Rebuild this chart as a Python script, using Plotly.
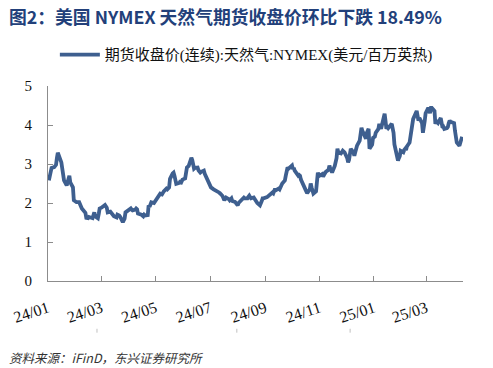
import plotly.graph_objects as go

dates = [
    "2024-01-02","2024-01-04","2024-01-05","2024-01-08","2024-01-10","2024-01-11","2024-01-12","2024-01-16","2024-01-18","2024-01-19",
    "2024-01-22","2024-01-24","2024-01-25","2024-01-26","2024-01-29","2024-01-30","2024-02-01","2024-02-02","2024-02-05","2024-02-07",
    "2024-02-08","2024-02-12","2024-02-13","2024-02-15","2024-02-16","2024-02-20","2024-02-22","2024-02-23","2024-02-26","2024-02-27",
    "2024-02-28","2024-03-01","2024-03-04","2024-03-05","2024-03-07","2024-03-08","2024-03-11","2024-03-13","2024-03-14","2024-03-15",
    "2024-03-18","2024-03-19","2024-03-21","2024-03-22","2024-03-25","2024-03-27","2024-03-28","2024-04-01","2024-04-03","2024-04-04",
    "2024-04-05","2024-04-08","2024-04-09","2024-04-10","2024-04-11","2024-04-15","2024-04-17","2024-04-18","2024-04-19","2024-04-22",
    "2024-04-23","2024-04-24","2024-04-26","2024-04-29","2024-05-01","2024-05-03","2024-05-06","2024-05-08","2024-05-10","2024-05-13",
    "2024-05-14","2024-05-16","2024-05-17","2024-05-20","2024-05-21","2024-05-22","2024-05-23","2024-05-24","2024-05-28","2024-05-29",
    "2024-05-30","2024-05-31","2024-06-03","2024-06-04","2024-06-05","2024-06-07","2024-06-10","2024-06-11","2024-06-12","2024-06-13",
    "2024-06-14","2024-06-17","2024-06-18","2024-06-20","2024-06-21","2024-06-24","2024-06-25","2024-06-26","2024-06-27","2024-06-28",
    "2024-07-01","2024-07-02","2024-07-05","2024-07-08","2024-07-10","2024-07-11","2024-07-12","2024-07-15","2024-07-17","2024-07-18",
    "2024-07-19","2024-07-22","2024-07-23","2024-07-25","2024-07-26","2024-07-29","2024-07-31","2024-08-01","2024-08-02","2024-08-05",
    "2024-08-07","2024-08-08","2024-08-09","2024-08-12","2024-08-13","2024-08-14","2024-08-15","2024-08-16","2024-08-19","2024-08-20",
    "2024-08-22","2024-08-23","2024-08-26","2024-08-27","2024-08-28","2024-08-29","2024-08-30","2024-09-03","2024-09-05","2024-09-06",
    "2024-09-09","2024-09-10","2024-09-11","2024-09-12","2024-09-13","2024-09-16","2024-09-17","2024-09-18","2024-09-19","2024-09-20",
    "2024-09-23","2024-09-24","2024-09-25","2024-09-26","2024-09-27","2024-09-30","2024-10-01","2024-10-02","2024-10-03","2024-10-04",
    "2024-10-07","2024-10-08","2024-10-09","2024-10-10","2024-10-11","2024-10-14","2024-10-15","2024-10-16","2024-10-17","2024-10-18",
    "2024-10-21","2024-10-22","2024-10-23","2024-10-24","2024-10-25","2024-10-28","2024-10-29","2024-10-30","2024-10-31","2024-11-01",
    "2024-11-04","2024-11-05","2024-11-06","2024-11-08","2024-11-11","2024-11-12","2024-11-13","2024-11-14","2024-11-15","2024-11-18",
    "2024-11-19","2024-11-20","2024-11-21","2024-11-22","2024-11-25","2024-11-26","2024-11-27","2024-11-29","2024-12-02","2024-12-03",
    "2024-12-04","2024-12-05","2024-12-06","2024-12-09","2024-12-10","2024-12-11","2024-12-12","2024-12-13","2024-12-16","2024-12-17",
    "2024-12-18","2024-12-19","2024-12-20","2024-12-23","2024-12-24","2024-12-26","2024-12-27","2024-12-30","2024-12-31","2025-01-02",
    "2025-01-03","2025-01-06","2025-01-07","2025-01-08","2025-01-09","2025-01-10","2025-01-13","2025-01-14","2025-01-15","2025-01-16",
    "2025-01-17","2025-01-21","2025-01-22","2025-01-23","2025-01-24","2025-01-27","2025-01-28","2025-01-29","2025-01-30","2025-01-31",
    "2025-02-03","2025-02-04","2025-02-05","2025-02-06","2025-02-07","2025-02-10","2025-02-11","2025-02-12","2025-02-13","2025-02-14",
    "2025-02-18","2025-02-19","2025-02-20","2025-02-21","2025-02-24","2025-02-25","2025-02-26","2025-02-27","2025-02-28","2025-03-03",
    "2025-03-04","2025-03-05","2025-03-06","2025-03-07","2025-03-10","2025-03-11","2025-03-12","2025-03-13","2025-03-14","2025-03-17",
    "2025-03-18","2025-03-19","2025-03-20","2025-03-21","2025-03-24","2025-03-25","2025-03-26","2025-03-27","2025-03-28","2025-03-31",
    "2025-04-01","2025-04-02","2025-04-03","2025-04-04","2025-04-07","2025-04-08","2025-04-09","2025-04-10",
]
prices = [
    2.58,2.85,2.90,2.92,2.98,3.15,3.29,3.04,2.75,2.58,
    2.45,2.66,2.70,2.53,2.40,2.07,2.05,2.02,2.02,1.90,
    1.86,1.75,1.62,1.61,1.64,1.61,1.76,1.66,1.61,1.72,
    1.86,1.88,1.94,1.95,1.88,1.76,1.78,1.73,1.70,1.66,
    1.63,1.70,1.68,1.65,1.51,1.60,1.76,1.81,1.86,1.83,
    1.81,1.83,1.86,1.84,1.73,1.70,1.66,1.70,1.68,1.69,
    1.94,1.90,2.02,2.00,2.07,2.10,2.24,2.22,2.30,2.37,
    2.35,2.40,2.62,2.76,2.78,2.70,2.53,2.49,2.52,2.58,
    2.55,2.60,2.63,2.75,2.91,2.95,3.16,3.10,3.00,2.88,
    2.90,2.91,2.84,2.78,2.80,2.83,2.75,2.70,2.65,2.58,
    2.48,2.40,2.35,2.32,2.30,2.27,2.25,2.18,2.07,2.10,
    2.14,2.10,2.07,2.12,2.05,2.03,1.99,1.94,2.00,2.07,
    2.10,2.14,2.12,2.12,2.16,2.19,2.15,2.12,2.14,2.10,
    2.05,2.00,1.94,1.98,2.05,2.12,2.12,2.15,2.19,2.22,
    2.27,2.25,2.32,2.37,2.33,2.37,2.35,2.38,2.45,2.50,
    2.58,2.70,2.80,2.91,2.88,2.93,2.96,2.87,2.90,2.83,
    2.75,2.70,2.72,2.70,2.60,2.48,2.40,2.35,2.27,2.25,
    2.35,2.50,2.40,2.30,2.24,2.30,2.60,2.78,2.72,2.70,
    2.74,2.68,2.72,2.80,2.85,2.96,2.88,2.80,2.78,2.95,
    3.05,3.15,3.39,3.30,3.27,3.30,3.34,3.30,3.15,3.04,
    3.10,3.25,3.39,3.30,3.21,3.30,3.40,3.47,3.60,3.75,
    3.93,3.85,3.80,3.65,3.80,3.90,3.39,3.50,3.67,3.70,
    3.80,3.90,4.03,3.95,3.90,4.00,4.29,4.10,3.90,3.95,
    3.92,4.03,3.95,3.80,3.50,3.20,3.09,3.15,3.20,3.34,
    3.30,3.36,3.39,3.36,3.45,3.55,3.70,3.85,4.00,4.15,
    4.36,4.25,4.11,4.18,4.05,3.80,3.90,4.10,4.30,4.44,
    4.40,4.30,4.44,4.44,4.36,4.03,4.10,4.06,4.05,4.18,
    4.00,3.93,3.95,3.90,3.92,3.95,4.05,4.11,4.08,4.06,
    4.05,3.85,3.65,3.55,3.47,3.55,3.67,3.70,
]

series_name = "期货收盘价(连续):天然气:NYMEX(美元/百万英热)"
title_text = "图2：美国 NYMEX 天然气期货收盘价环比下跌 18.49%"
source_text = "资料来源：iFinD，东兴证券研究所"
y_ticks = [0, 1, 2, 3, 4, 5]

serif = "Liberation Serif, Times New Roman, Noto Sans CJK SC, serif"
line_color = "#3E5F8F"
axis_color = "#8C8C8C"

fig = go.Figure()
fig.add_trace(go.Scatter(
    x=dates, y=prices, mode="lines", name=series_name,
    line=dict(color=line_color, width=3.8),
))

# faint stray marks under the axis labels seen in the source image
stray_marks = [0.118, 0.455, 0.728]
shapes = [dict(type="line", xref="paper", yref="paper", x0=m, x1=m, y0=-0.245, y1=-0.265,
               line=dict(color="#C0C0C0", width=1)) for m in stray_marks]

fig.update_layout(
    width=493, height=368,
    margin=dict(l=48, r=30, t=86, b=87),
    paper_bgcolor="white", plot_bgcolor="white",
    showlegend=True,
    shapes=shapes,
    legend=dict(
        orientation="h", x=0.478, xanchor="center", y=1.16, yanchor="middle",
        font=dict(family=serif, size=15, color="#111111"),
        bgcolor="rgba(0,0,0,0)", itemwidth=40,
    ),
    annotations=[
        dict(text="<b>" + title_text + "</b>", xref="paper", yref="paper",
             x=-0.1, y=1.36, xanchor="left", yanchor="middle", showarrow=False,
             font=dict(family="Noto Sans CJK SC, sans-serif", size=17.8, color="#22407A")),
        dict(text="<i>" + source_text + "</i>", xref="paper", yref="paper",
             x=-0.1, y=-0.39, xanchor="left", yanchor="middle", showarrow=False,
             font=dict(family="Noto Sans CJK SC, sans-serif", size=12.5, color="#333333")),
    ],
)

fig.update_xaxes(
    type="date",
    range=["2024-01-01", "2025-04-11"],
    tick0="2024-01-01", dtick="M2", tickformat="%y/%m",
    ticks="inside", ticklen=5, tickcolor=axis_color,
    showline=True, linecolor=axis_color, linewidth=1,
    showgrid=False, zeroline=False,
    tickangle=-18, ticklabelstandoff=11,
    tickfont=dict(family=serif, size=16, color="#111111"),
)
fig.update_yaxes(
    range=[0, 5], tickvals=y_ticks,
    ticks="inside", ticklen=5, tickcolor=axis_color,
    showline=True, linecolor=axis_color, linewidth=1,
    showgrid=False, zeroline=False,
    ticklabelstandoff=12,
    tickfont=dict(family=serif, size=15, color="#111111"),
)

fig.write_html("out.html", config={"displayModeBar": False},
               post_script="document.body.style.margin='0';document.body.style.overflow='hidden';")
